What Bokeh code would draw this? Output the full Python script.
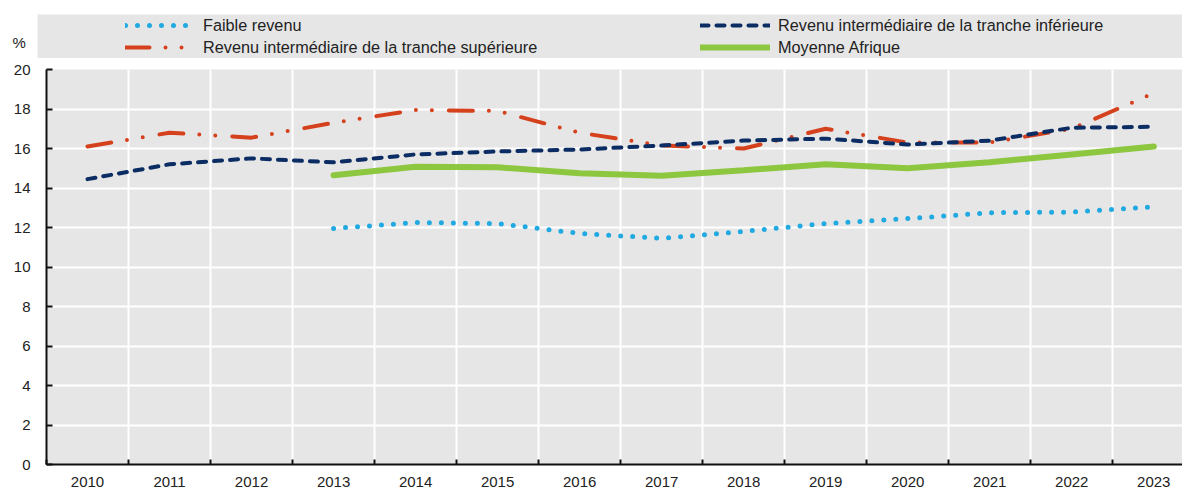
from bokeh.plotting import figure
from bokeh.models import Range1d, FixedTicker, Legend, LegendItem, Label, BoxAnnotation
from bokeh.layouts import column
from bokeh.embed import file_html
from bokeh.resources import INLINE

# ---------------- data ----------------
years = [2010, 2011, 2012, 2013, 2014, 2015, 2016, 2017, 2018, 2019, 2020, 2021, 2022, 2023]
years_recent = years[3:]  # 2013-2023

faible_revenu = [11.95, 12.25, 12.2, 11.7, 11.45, 11.8, 12.2, 12.45, 12.75, 12.78, 13.05]
tranche_inferieure = [14.45, 15.2, 15.5, 15.3, 15.7, 15.85, 15.95, 16.15, 16.4, 16.5, 16.2, 16.4, 17.05, 17.1]
tranche_superieure = [16.1, 16.8, 16.55, 17.3, 17.95, 17.9, 16.8, 16.15, 16.0, 17.0, 16.3, 16.3, 17.0, 18.8]
moyenne_afrique = [14.65, 15.08, 15.05, 14.75, 14.62, 14.9, 15.2, 15.0, 15.3, 15.7, 16.1]

labels = {
    "faible": "Faible revenu",
    "inf": "Revenu intermédiaire de la tranche inférieure",
    "sup": "Revenu intermédiaire de la tranche supérieure",
    "moy": "Moyenne Afrique",
}
y_ticks = list(range(0, 21, 2))
unit_label = "%"

# ---------------- styles ----------------
FONT = "Liberation Sans"
BG = "#e6e6e6"
TXT = "#222222"
styles = {
    "faible": dict(line_color="#21a9e1", line_width=5, line_dash="0 12", line_cap="round"),
    "inf": dict(line_color="#0b2d63", line_width=4, line_dash="8 8", line_cap="round"),
    "sup": dict(line_color="#d5401d", line_width=4, line_dash="24 16 0 16 0 17", line_cap="round"),
    "moy": dict(line_color="#8dc63f", line_width=6, line_cap="round"),
}
series = {
    "faible": (years_recent, faible_revenu),
    "inf": (years, tranche_inferieure),
    "sup": (years, tranche_superieure),
    "moy": (years_recent, moyenne_afrique),
}

# ---------------- legend band (top figure, frame = whole canvas) ----------------
leg = figure(width=1182, height=58, x_range=Range1d(0, 1), y_range=Range1d(0, 1),
             output_backend="svg", toolbar_location=None,
             min_border_left=0, min_border_right=0, min_border_top=0, min_border_bottom=0,
             background_fill_color="white", border_fill_color="white", outline_line_color=None,
             x_axis_location=None, y_axis_location=None)
leg.frame_align = False
leg.xgrid.visible = False
leg.ygrid.visible = False

leg.add_layout(BoxAnnotation(left=37, right=1182, bottom=0, top=44,
                             left_units="screen", right_units="screen",
                             bottom_units="screen", top_units="screen",
                             fill_color=BG, fill_alpha=1, line_color=None))

# legend proxies: same series, lying outside this band's (0..1) ranges, so only their legend glyphs show
proxy = {k: leg.line(series[k][0], series[k][1], **s) for k, s in styles.items()}

common = dict(orientation="vertical", glyph_height=20, label_height=20, spacing=2,
              padding=0, margin=0, border_line_color=None, background_fill_alpha=0,
              label_text_font=FONT, label_text_font_size="16.25px", label_text_color=TXT)
leg1 = Legend(items=[LegendItem(label=labels["faible"], renderers=[proxy["faible"]]),
                     LegendItem(label=labels["sup"], renderers=[proxy["sup"]])],
              location=(125, 1), glyph_width=68, label_standoff=10, **common)
leg2 = Legend(items=[LegendItem(label=labels["inf"], renderers=[proxy["inf"]]),
                     LegendItem(label=labels["moy"], renderers=[proxy["moy"]])],
              location=(700, 1), glyph_width=70, label_standoff=8, **common)
leg.add_layout(leg1)
leg.add_layout(leg2)
leg.add_layout(Label(x=12, y=16, x_units="screen", y_units="screen", text=unit_label,
                     text_font=FONT, text_font_size="15px", text_color=TXT,
                     text_baseline="middle", text_align="left"))

# ---------------- main chart ----------------
p = figure(width=1182, height=431, x_range=Range1d(years[0] - 0.5, 2023.35), y_range=Range1d(0, 20),
           output_backend="svg", toolbar_location=None,
           min_border_left=46, min_border_right=0, min_border_top=11, min_border_bottom=24,
           background_fill_color=BG, border_fill_color="white", outline_line_color=None)
p.frame_align = False

p.line(years_recent, moyenne_afrique, **styles["moy"])
p.line(years_recent, faible_revenu, **styles["faible"])
p.line(years, tranche_superieure, **styles["sup"])
p.line(years, tranche_inferieure, **styles["inf"])

boundaries = [y - 0.5 for y in years] + [years[-1] + 0.5]
xt = FixedTicker(ticks=years, minor_ticks=boundaries)
p.xaxis.ticker = xt
p.xgrid.ticker = xt
p.xaxis.major_tick_line_color = None
p.xaxis.minor_tick_in = 5
p.xaxis.minor_tick_out = 0
p.xaxis.minor_tick_line_color = "#111111"
p.xaxis.minor_tick_line_width = 2
p.xaxis.major_label_standoff = 6
p.xgrid.grid_line_color = None
p.xgrid.minor_grid_line_color = "white"
p.xgrid.minor_grid_line_width = 2

yt = FixedTicker(ticks=y_ticks, minor_ticks=[])
p.yaxis.ticker = yt
p.ygrid.ticker = yt
p.yaxis.major_tick_in = 6
p.yaxis.major_tick_out = 0
p.yaxis.major_tick_line_width = 2
p.yaxis.major_tick_line_color = "#111111"
p.yaxis.minor_tick_line_color = None
p.yaxis.major_label_standoff = 16
p.ygrid.grid_line_color = "white"
p.ygrid.grid_line_width = 2

for ax in (p.xaxis, p.yaxis):
    ax.axis_line_color = "#111111"
    ax.axis_line_width = 2
    ax.major_label_text_font = FONT
    ax.major_label_text_font_size = "15px"
    ax.major_label_text_color = TXT

layout = column(leg, p)
open("out.html", "w").write(file_html(layout, INLINE))
